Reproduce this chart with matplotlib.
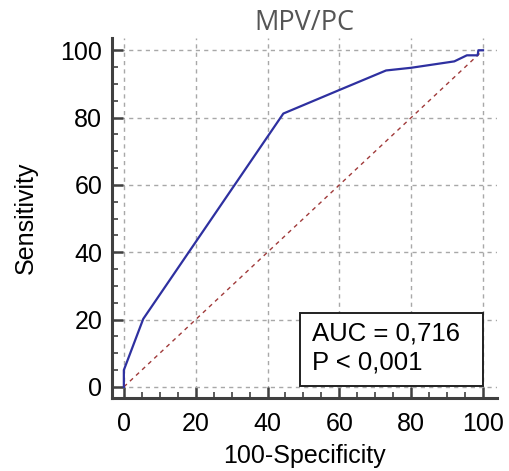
import numpy as np
import matplotlib
matplotlib.use('Agg')
import matplotlib.pyplot as plt
from matplotlib.ticker import MultipleLocator
from matplotlib.patches import Rectangle

# ROC curve points (100-Specificity, Sensitivity)
fpr = [0, 0, 5.4, 44.4, 60, 73, 80, 92, 95.5, 98.5, 98.7, 100]
tpr = [0, 5, 20.2, 81.2, 88.2, 94, 94.8, 96.7, 98.5, 98.5, 100, 100]
title = 'MPV/PC'
auc_text = 'AUC = 0,716\nP < 0,001'
ticks = [0, 20, 40, 60, 80, 100]

plt.rcParams['font.family'] = ['Liberation Sans', 'DejaVu Sans']

fig = plt.figure(figsize=(5.1, 4.71), dpi=100)
ax = fig.add_axes([0.2196, 0.155, 0.755, 0.764])

ax.plot([0, 100], [0, 100], color='#a03a3a', lw=1.0, ls=(0, (3, 3)), zorder=2)
ax.plot(fpr, tpr, color='#2e30a0', lw=1.6, zorder=3)

ax.set_xlim(-3.3, 103.9)
ax.set_ylim(-3.3, 103.6)
ax.set_xticks(ticks)
ax.set_yticks(ticks)
ax.xaxis.set_minor_locator(MultipleLocator(5))
ax.yaxis.set_minor_locator(MultipleLocator(5))
ax.grid(True, which='major', color='#a8a8a8', ls=(0, (3, 3)), lw=1.0)

for s in ['top', 'right']:
    ax.spines[s].set_visible(False)
for s in ['left', 'bottom']:
    ax.spines[s].set_color('#404040')
    ax.spines[s].set_linewidth(2.2)

ax.tick_params(which='major', direction='in', length=8, width=1.8, color='#404040',
               labelsize=18)
ax.tick_params(which='minor', direction='in', length=4, width=1.2, color='#404040')
ax.tick_params(axis='x', pad=10)
ax.tick_params(axis='y', pad=7)

ax.set_xlabel('100-Specificity', fontsize=18, labelpad=6)
ax.set_ylabel('Sensitivity', fontsize=18, labelpad=16)
ax.set_title(title, fontsize=19.5, color='#555555', family=['Open Sans', 'DejaVu Sans'], pad=6)

# AUC box
ax.add_patch(Rectangle((0.488, 0.033), 0.476, 0.203, transform=ax.transAxes,
                       fc='white', ec='#202020', lw=1.4, zorder=5))
ax.text(0.519, 0.139, auc_text, transform=ax.transAxes, fontsize=18.5, va='center', ha='left',
        linespacing=1.3, zorder=6)

fig.savefig('out.png', dpi=100)
